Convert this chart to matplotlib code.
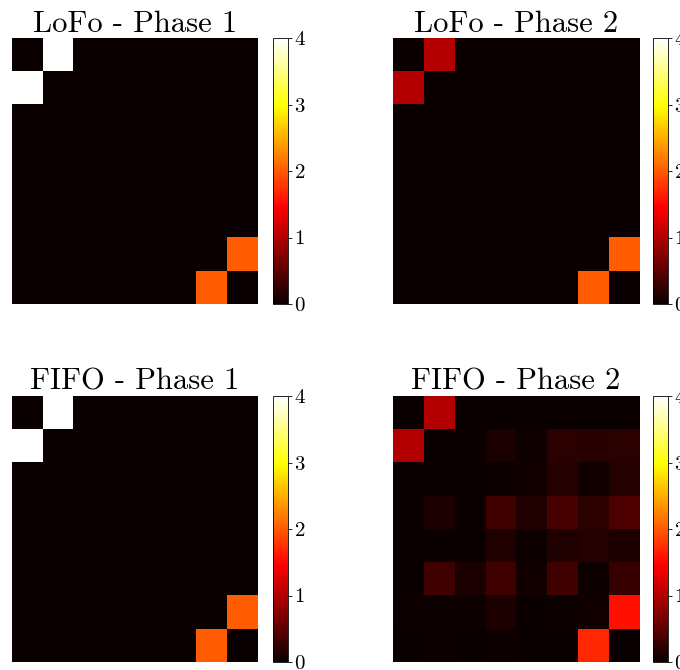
import numpy as np
import matplotlib
matplotlib.use("Agg")
import matplotlib.pyplot as plt

plt.rcParams['font.family'] = ['cmr10', 'DejaVu Serif']
plt.rcParams['mathtext.fontset'] = 'cm'
plt.rcParams['axes.formatter.use_mathtext'] = True

titles = ["LoFo - Phase 1", "LoFo - Phase 2", "FIFO - Phase 1", "FIFO - Phase 2"]

lofo_p1 = [
    [0, 4, 0, 0, 0, 0, 0, 0],
    [4, 0, 0, 0, 0, 0, 0, 0],
    [0, 0, 0, 0, 0, 0, 0, 0],
    [0, 0, 0, 0, 0, 0, 0, 0],
    [0, 0, 0, 0, 0, 0, 0, 0],
    [0, 0, 0, 0, 0, 0, 0, 0],
    [0, 0, 0, 0, 0, 0, 0, 2],
    [0, 0, 0, 0, 0, 0, 2, 0],
]
lofo_p2 = [
    [0, 1, 0, 0, 0, 0, 0, 0],
    [1, 0, 0, 0, 0, 0, 0, 0],
    [0, 0, 0, 0, 0, 0, 0, 0],
    [0, 0, 0, 0, 0, 0, 0, 0],
    [0, 0, 0, 0, 0, 0, 0, 0],
    [0, 0, 0, 0, 0, 0, 0, 0],
    [0, 0, 0, 0, 0, 0, 0, 2],
    [0, 0, 0, 0, 0, 0, 2, 0],
]
fifo_p1 = [
    [0, 4, 0, 0, 0, 0, 0, 0],
    [4, 0, 0, 0, 0, 0, 0, 0],
    [0, 0, 0, 0, 0, 0, 0, 0],
    [0, 0, 0, 0, 0, 0, 0, 0],
    [0, 0, 0, 0, 0, 0, 0, 0],
    [0, 0, 0, 0, 0, 0, 0, 0],
    [0, 0, 0, 0, 0, 0, 0, 2],
    [0, 0, 0, 0, 0, 0, 2, 0],
]
fifo_p2 = [
    [0.00, 1.00, 0.01, 0.01, 0.01, 0.01, 0.01, 0.01],
    [1.00, 0.00, 0.00, 0.10, 0.04, 0.20, 0.18, 0.20],
    [0.00, 0.01, 0.00, 0.03, 0.05, 0.16, 0.06, 0.16],
    [0.00, 0.10, 0.00, 0.32, 0.14, 0.39, 0.20, 0.41],
    [0.00, 0.00, 0.00, 0.14, 0.03, 0.14, 0.17, 0.11],
    [0.00, 0.32, 0.10, 0.32, 0.05, 0.32, 0.03, 0.27],
    [0.03, 0.03, 0.02, 0.11, 0.00, 0.02, 0.06, 1.55],
    [0.00, 0.03, 0.00, 0.02, 0.00, 0.00, 1.70, 0.00],
]
cbar_ticks = [0, 1, 2, 3, 4]

datasets = [lofo_p1, lofo_p2, fifo_p1, fifo_p2]

fig = plt.figure(figsize=(6.8, 6.7), dpi=100)
W, H = 680, 670
ax_lefts = [12, 393, 12, 393]
cb_lefts = [273, 653, 273, 653]
tops = [38, 38, 396, 396]
ax_w, ax_h, cb_w = 246, 266, 15

for i in range(4):
    l, t = ax_lefts[i], tops[i]
    ax = fig.add_axes([l / W, 1 - (t + ax_h) / H, ax_w / W, ax_h / H])
    im = ax.imshow(np.array(datasets[i]), cmap='hot', vmin=0, vmax=4,
                   aspect='auto', interpolation='nearest')
    ax.set_xticks([])
    ax.set_yticks([])
    for s in ax.spines.values():
        s.set_visible(False)
    ax.set_title(titles[i], fontsize=22, pad=2)
    cax = fig.add_axes([cb_lefts[i] / W, 1 - (t + ax_h) / H, cb_w / W, ax_h / H])
    cb = fig.colorbar(im, cax=cax, ticks=cbar_ticks)
    cb.ax.tick_params(labelsize=15, length=3, width=0.6, pad=1)
    cb.outline.set_linewidth(0.6)

fig.savefig("out.png", dpi=100)
